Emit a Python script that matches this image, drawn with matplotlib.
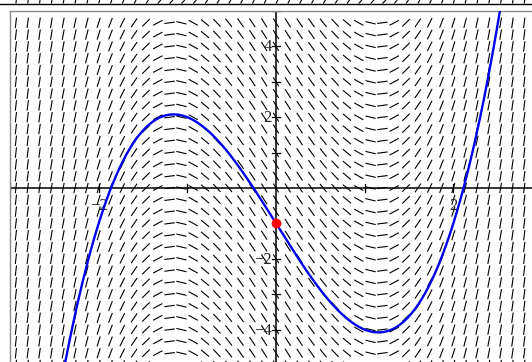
import numpy as np
import matplotlib
matplotlib.use("Agg")
import matplotlib.pyplot as plt
from matplotlib.collections import LineCollection
from matplotlib.lines import Line2D

# ODE  y' = a*x^2 + c , initial point (x0, y0)
ode_a = 3.0
ode_c = -4.0
x0 = [0.0]
y0 = [-1.0]

x_range = [-3.0, 3.0]
y_range = [-5.0, 5.0]
n_cols = 45                       # slope-field columns (cell centres)
n_rows = 30                       # slope-field rows (every 1/3)

x_ticks = [-3, -2, -1, 1, 2, 3]
y_ticks = [-5, -4, -3, -2, -1, 1, 2, 3, 4, 5]
x_labels = {-2: "\u22122", 2: "2"}
y_labels = {-4: "\u22124", -2: "\u22122", 2: "2", 4: "4"}

W, H = 532, 362
fig = plt.figure(figsize=(W / 100, H / 100), dpi=100)
ax = fig.add_axes([10 / W, -3 / H, 532 / W, 354 / H])
ax.set_xlim(*x_range)
ax.set_ylim(*y_range)
sx = 532 / (x_range[1] - x_range[0])   # px per unit
sy = 354 / (y_range[1] - y_range[0])

for s in ax.spines.values():
    s.set_color("#8a8a8a")
    s.set_linewidth(1.0)
ax.set_xticks([])
ax.set_yticks([])


def slope(x):
    return ode_a * x ** 2 + ode_c


# slope field, dashes of constant screen length
dash_px = 10.5
step = (x_range[1] - x_range[0]) / n_cols
xs = x_range[0] + (np.arange(n_cols) + 0.5) * step
ys = y_range[1] - np.arange(1, n_rows + 1) * (y_range[1] - y_range[0]) / n_rows
segs = []
for x in xs:
    ux, uy = 1.0, slope(x) * sy / sx
    norm = np.hypot(ux, uy)
    dx = dash_px / 2 * ux / norm / sx
    dy = dash_px / 2 * uy / norm / sy
    for y in ys:
        segs.append([(x - dx, y - dy), (x + dx, y + dy)])
ax.add_collection(LineCollection(segs, colors="black", linewidths=0.8, zorder=1))

# axes through the origin with cross ticks
ax.axhline(0, color="black", lw=1.1, zorder=2)
ax.axvline(0, color="black", lw=1.1, zorder=2)
tk = 4
for t in x_ticks:
    ax.plot([t, t], [-tk / sy, tk / sy], color="black", lw=0.9, zorder=2)
for t in y_ticks:
    ax.plot([-tk / sx, tk / sx], [t, t], color="black", lw=0.9, zorder=2)

font = dict(family="Liberation Serif", size=12, color="#222222")
for t, lab in x_labels.items():
    ax.annotate(lab, (t, 0), xytext=(0, -10), textcoords="offset pixels",
                ha="center", va="top", **font)
for t, lab in y_labels.items():
    ax.annotate(lab, (0, t), xytext=(-4, -1), textcoords="offset pixels",
                ha="right", va="center", **font)

# solution curve through (x0, y0)
xc = np.linspace(x_range[0], x_range[1], 600)
yc = ode_a / 3 * (xc ** 3 - x0[0] ** 3) + ode_c * (xc - x0[0]) + y0[0]
ax.plot(xc, yc, color="#0000ee", lw=1.7, zorder=3)
ax.plot(x0, y0, "o", color="red", ms=6, zorder=4)

# remnant of the previous plot at the very top of the page
fig.add_artist(Line2D([0, 1], [1 - 3.5 / H, 1 - 3.5 / H], color="black", lw=1.0))
top = []
for x in xs:
    px = 10 + (x - x_range[0]) * sx
    ux, uy = 1.0, slope(x) * sy / sx
    norm = np.hypot(ux, uy)
    top.append([(px / W, 1 - 3.5 / H), ((px + 3.5 * ux / norm) / W, 1)])
fig.add_artist(LineCollection(top, colors="black", linewidths=0.8,
                              transform=fig.transFigure))

fig.savefig("out.png", dpi=100)
